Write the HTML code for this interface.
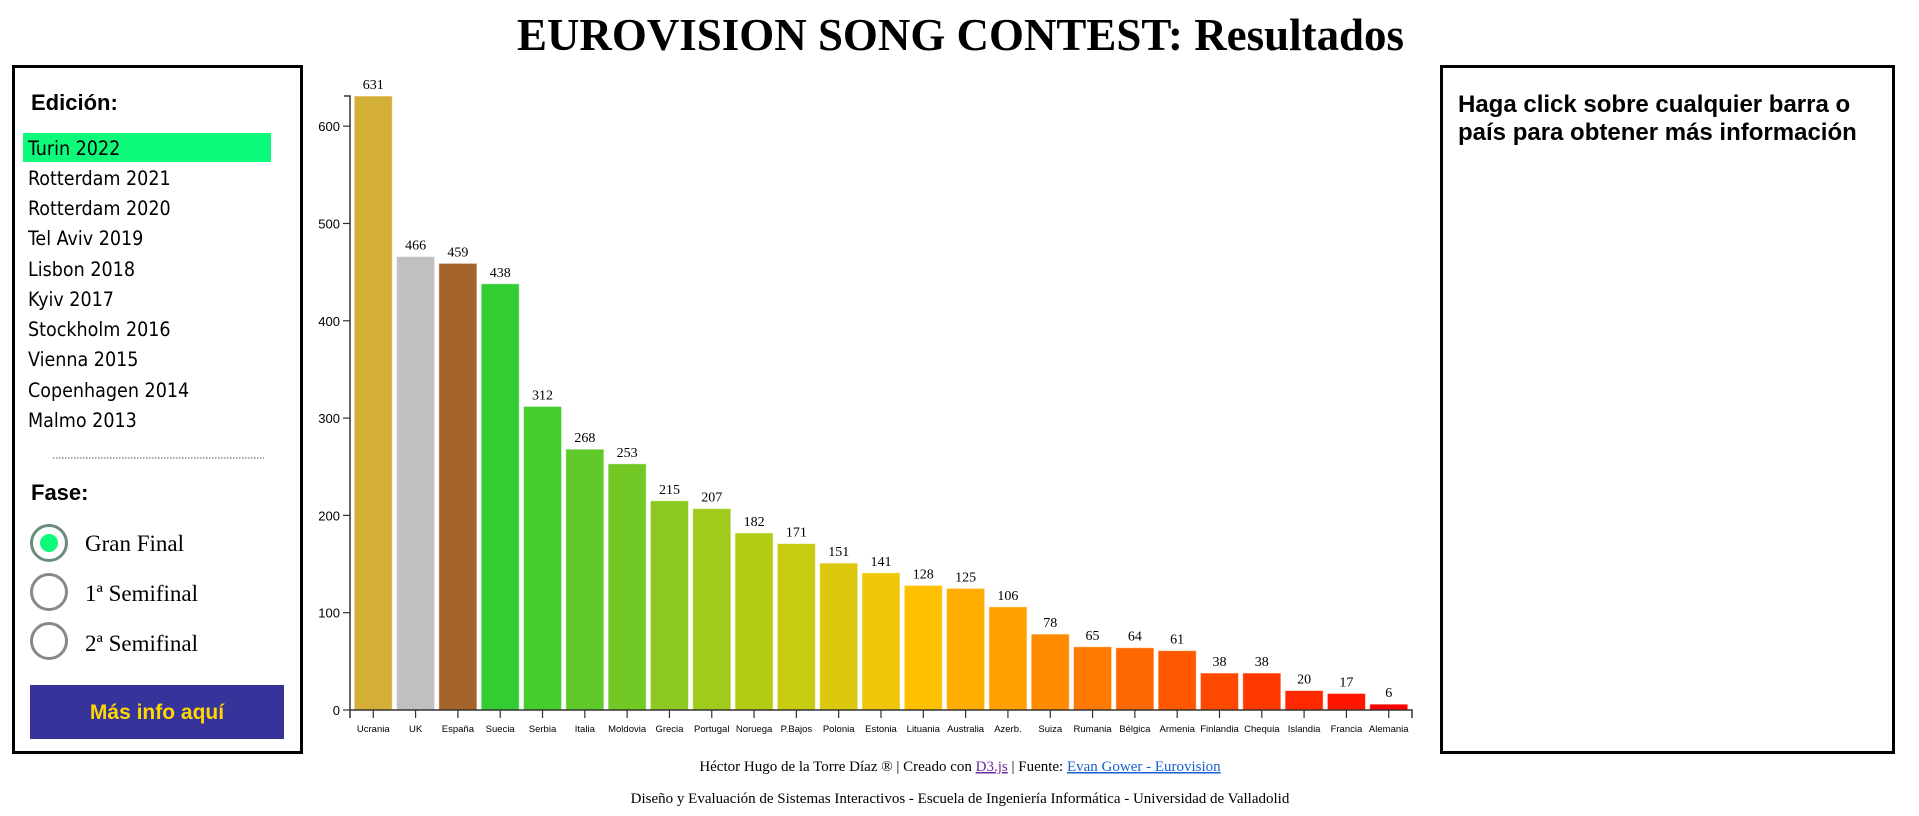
<!DOCTYPE html>
<html><head><meta charset="utf-8"><style>
html,body{margin:0;padding:0;background:#fff;width:1919px;height:816px;overflow:hidden}
svg{display:block}
</style></head><body>
<svg id="root" width="1919" height="816" xmlns="http://www.w3.org/2000/svg">
<text x="517" y="50" font-family="Liberation Serif, serif" font-weight="bold" font-size="46" textLength="887" lengthAdjust="spacingAndGlyphs">EUROVISION SONG CONTEST: Resultados</text>

<g>
<rect x="13.5" y="66.5" width="288" height="686" fill="none" stroke="#000" stroke-width="3"/>
<text x="31" y="110" font-family="Liberation Sans, sans-serif" font-weight="bold" font-size="22">Edición:</text>
<rect x="23" y="133" width="248" height="29" fill="#0dfa7a"/>
<g font-family="DejaVu Sans Condensed, DejaVu Sans, sans-serif" font-size="19.5" fill="#000">
<text x="28" y="155">Turin 2022</text>
<text x="28" y="185">Rotterdam 2021</text>
<text x="28" y="215">Rotterdam 2020</text>
<text x="28" y="245">Tel Aviv 2019</text>
<text x="28" y="276">Lisbon 2018</text>
<text x="28" y="306">Kyiv 2017</text>
<text x="28" y="336">Stockholm 2016</text>
<text x="28" y="366">Vienna 2015</text>
<text x="28" y="397">Copenhagen 2014</text>
<text x="28" y="427">Malmo 2013</text>
</g>
<line x1="53" y1="458" x2="264" y2="458" stroke="#777" stroke-width="1.2" stroke-dasharray="1.5,1.5"/>
<text x="31" y="500" font-family="Liberation Sans, sans-serif" font-weight="bold" font-size="22">Fase:</text>
<circle cx="49" cy="543" r="17.5" fill="#fff" stroke="#6b8c7c" stroke-width="3"/>
<circle cx="49" cy="543" r="9" fill="#0dfa7a"/>
<circle cx="49" cy="592" r="17.5" fill="#fff" stroke="#888" stroke-width="3"/>
<circle cx="49" cy="641" r="17.5" fill="#fff" stroke="#888" stroke-width="3"/>
<g font-family="Liberation Serif, serif" font-size="23">
<text x="85" y="551">Gran Final</text>
<text x="85" y="601">1ª Semifinal</text>
<text x="85" y="651">2ª Semifinal</text>
</g>
<rect x="30" y="685" width="254" height="54" fill="#36339a"/>
<text x="157" y="719" text-anchor="middle" font-family="Liberation Sans, sans-serif" font-weight="bold" font-size="21" fill="#ffd700">Más info aquí</text>
</g>

<g id="chart"></g>

<g>
<rect x="1441.5" y="66.5" width="452" height="686" fill="none" stroke="#000" stroke-width="3"/>
<text font-family="Liberation Sans, sans-serif" font-weight="bold" font-size="24"><tspan x="1458" y="112">Haga click sobre cualquier barra o</tspan><tspan x="1458" y="140">país para obtener más información</tspan></text>
</g>

<g font-family="Liberation Serif, serif" font-size="15" text-anchor="middle">
<text x="960" y="771">Héctor Hugo de la Torre Díaz ® | Creado con <tspan fill="#6a2a9a" text-decoration="underline">D3.js</tspan> | Fuente: <tspan fill="#1a5fd0" text-decoration="underline">Evan Gower - Eurovision</tspan></text>
<text x="960" y="803">Diseño y Evaluación de Sistemas Interactivos - Escuela de Ingeniería Informática - Universidad de Valladolid</text>
</g>
</svg>
<script>
const countries=["Ucrania","UK","España","Suecia","Serbia","Italia","Moldovia","Grecia","Portugal","Noruega","P.Bajos","Polonia","Estonia","Lituania","Australia","Azerb.","Suiza","Rumania","Bélgica","Armenia","Finlandia","Chequia","Islandia","Francia","Alemania"];
const points=[631,466,459,438,312,268,253,215,207,182,171,151,141,128,125,106,78,65,64,61,38,38,20,17,6];
const barColors=["#d4af37","#c0c0c0","#a5652a","#32cd32","#45cc2e","#5ec928","#72c824","#8cc820","#9ecb1c","#b4cc14","#c8cc10","#dcc80c","#eec808","#ffc000","#ffae00","#ffa000","#ff8c00","#ff7a00","#ff6800","#ff5800","#ff4800","#ff3800","#ff2800","#ff1400","#ff0000"];
const yTicks=[0,100,200,300,400,500,600];
const NS="http://www.w3.org/2000/svg";
const g=document.getElementById('chart');
const X0=350,X1=1412,Y0=710,YTOP=96,ymax=Math.max(...points);
const y=v=>Y0-(Y0-YTOP)*v/ymax;
const n=countries.length,step=(X1-X0)/(n-0.1+0.2),bw=step*0.9,off=step*0.1;
const x=i=>X0+off+i*step;
function mk(t,a){const e=document.createElementNS(NS,t);for(const k in a)e.setAttribute(k,a[k]);g.appendChild(e);return e;}
points.forEach((v,i)=>{
 const r=mk('rect',{x:x(i),y:y(v),width:bw,height:Y0-y(v),fill:barColors[i],stroke:'rgba(255,255,255,0.5)','stroke-width':1});
 
 
 const t=mk('text',{x:x(i)+bw/2,y:y(v)-7,'text-anchor':'middle','font-family':'Liberation Serif, serif','font-size':14});
 t.textContent=v;
 
 
 mk('line',{x1:x(i)+bw/2,x2:x(i)+bw/2,y1:Y0,y2:Y0+8,stroke:'#333','stroke-width':1.2});
 const l=mk('text',{x:x(i)+bw/2,y:Y0+22,'text-anchor':'middle','font-family':'Liberation Sans, sans-serif','font-size':9.5});
 l.textContent=countries[i];
 
 
});
const ax=mk('path',{d:`M${X0-6},${YTOP}H${X0}V${Y0}H${X1}V${Y0+8}`,fill:'none',stroke:'#333','stroke-width':1.5});


mk('line',{x1:X0,x2:X0,y1:Y0,y2:Y0+8,stroke:'#333','stroke-width':1.5});
yTicks.forEach(v=>{
 mk('line',{x1:X0-7,x2:X0,y1:y(v),y2:y(v),stroke:'#333','stroke-width':1.2});
 const t=mk('text',{x:X0-10,y:y(v)+5,'text-anchor':'end','font-family':'Liberation Sans, sans-serif','font-size':13});
 t.textContent=v;
 
 
});
</script>
</body></html>
